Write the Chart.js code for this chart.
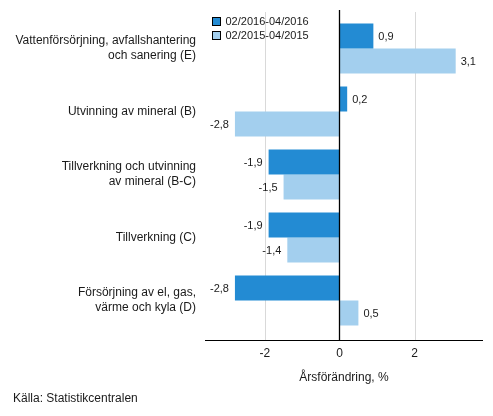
<!DOCTYPE html>
<html>
<head>
<meta charset="utf-8">
<script src="https://cdn.jsdelivr.net/npm/chart.js@4"></script>
<style>
  html, body { margin: 0; padding: 0; background: #fff; }
  #wrap { position: relative; width: 493px; height: 416px; }
  #source {
    position: absolute; left: 13px; top: 391px;
    font: 12px "Liberation Sans", Arial, sans-serif; color: #1a1a1a;
  }
</style>
</head>
<body>
<div id="wrap">
  <canvas id="chart"></canvas>
  <div id="source">Källa: Statistikcentralen</div>
</div>
<script>
const categories = [
    ["Vattenförsörjning, avfallshantering", "och sanering (E)"],
    "Utvinning av mineral (B)",
    ["Tillverkning och utvinning", "av mineral (B-C)"],
    "Tillverkning (C)",
    ["Försörjning av el, gas,", "värme och kyla (D)"]
];
const seriesLabels = ["02/2016-04/2016", "02/2015-04/2015"];
const values2016 = [0.9, 0.2, -1.9, -1.9, -2.8];
const values2015 = [3.1, -2.8, -1.5, -1.4, 0.5];
const xTicks = [-2, 0, 2];

const FONT = '"Liberation Sans", Arial, sans-serif';
const darkBlue = "#238bd3";
const lightBlue = "#a3cfee";

// grid lines, zero line, axis line (a bit longer than the bar area), legend
const framePlugin = {
    id: "frame",
    beforeDatasetsDraw(chart) {
        const { ctx, chartArea } = chart;
        const x = chart.scales.x;
        ctx.save();
        ctx.strokeStyle = "#d9d9d9";
        ctx.lineWidth = 1;
        xTicks.forEach(v => {
            if (v === 0) return;
            const px = Math.round(x.getPixelForValue(v)) + 0.5;
            ctx.beginPath();
            ctx.moveTo(px, chartArea.top - 5);
            ctx.lineTo(px, chartArea.bottom + 8);
            ctx.stroke();
        });
        ctx.restore();
    },
    afterDatasetsDraw(chart) {
        const { ctx, chartArea } = chart;
        const x = chart.scales.x;
        ctx.save();
        ctx.strokeStyle = "#000";
        ctx.lineWidth = 1.3;
        const zx = Math.round(x.getPixelForValue(0)) - 0.5;
        ctx.beginPath();
        ctx.moveTo(zx, chartArea.top - 7);
        ctx.lineTo(zx, chartArea.bottom + 8);
        ctx.stroke();
        const ay = Math.round(chartArea.bottom + 8) + 0.5;
        ctx.lineWidth = 1;
        ctx.beginPath();
        ctx.moveTo(chartArea.left, ay);
        ctx.lineTo(chartArea.right, ay);
        ctx.stroke();

        // value labels
        ctx.font = "11px " + FONT;
        ctx.fillStyle = "#1a1a1a";
        ctx.textBaseline = "middle";
        chart.data.datasets.forEach((ds, i) => {
            chart.getDatasetMeta(i).data.forEach((bar, j) => {
                const v = ds.data[j];
                const txt = v.toFixed(1).replace(".", ",");
                if (v >= 0) {
                    ctx.textAlign = "left";
                    ctx.fillText(txt, bar.x + 5, bar.y + 1);
                } else {
                    ctx.textAlign = "right";
                    ctx.fillText(txt, bar.x - 6, bar.y + 1);
                }
            });
        });

        // legend
        ctx.font = "11px " + FONT;
        ctx.textAlign = "left";
        chart.data.datasets.forEach((ds, i) => {
            const bx = chartArea.left + 7.5;
            const by = chartArea.top + 0.5 + i * 14;
            ctx.fillStyle = ds.backgroundColor;
            ctx.fillRect(bx, by, 8, 8);
            ctx.strokeStyle = "#000";
            ctx.lineWidth = 1;
            ctx.strokeRect(bx, by, 8, 8);
            ctx.fillStyle = "#1a1a1a";
            ctx.fillText(ds.label, bx + 13, by + 4.5);
        });
        ctx.restore();
    }
};

new Chart(document.getElementById("chart"), {
    type: "bar",
    data: {
        labels: categories,
        datasets: [
            { label: seriesLabels[0], data: values2016, backgroundColor: darkBlue },
            { label: seriesLabels[1], data: values2015, backgroundColor: lightBlue }
        ]
    },
    options: {
        indexAxis: "y",
        responsive: true,
        maintainAspectRatio: false,
        animation: false,
        layout: { padding: { top: 17, right: 10, left: 0, bottom: 0 } },
        categoryPercentage: 50 / 63,
        barPercentage: 1,
        plugins: {
            legend: { display: false },
            tooltip: { enabled: false }
        },
        scales: {
            x: {
                min: -3.6,
                max: 3.83,
                grid: { display: false, drawTicks: false },
                border: { display: false },
                ticks: {
                    stepSize: 2,
                    includeBounds: false,
                    padding: 14,
                    color: "#1a1a1a",
                    font: { family: FONT, size: 12 },
                    callback: v => xTicks.includes(v) ? String(v) : null
                },
                title: {
                    display: true,
                    text: "Årsförändring, %",
                    color: "#1a1a1a",
                    font: { family: FONT, size: 12 },
                    padding: { top: 0, bottom: 31 }
                },
                afterFit(scale) {
                    scale.height = 84;
                    scale.paddingLeft = 0;
                    scale.paddingRight = 0;
                }
            },
            y: {
                grid: { display: false, drawTicks: false },
                border: { display: false },
                ticks: {
                    padding: 9,
                    color: "#1a1a1a",
                    font: { family: FONT, size: 12, lineHeight: 1.25 }
                },
                afterFit(scale) {
                    scale.width = 205;
                    scale.paddingTop = 0;
                    scale.paddingBottom = 0;
                }
            }
        }
    },
    plugins: [framePlugin]
});
</script>
</body>
</html>
